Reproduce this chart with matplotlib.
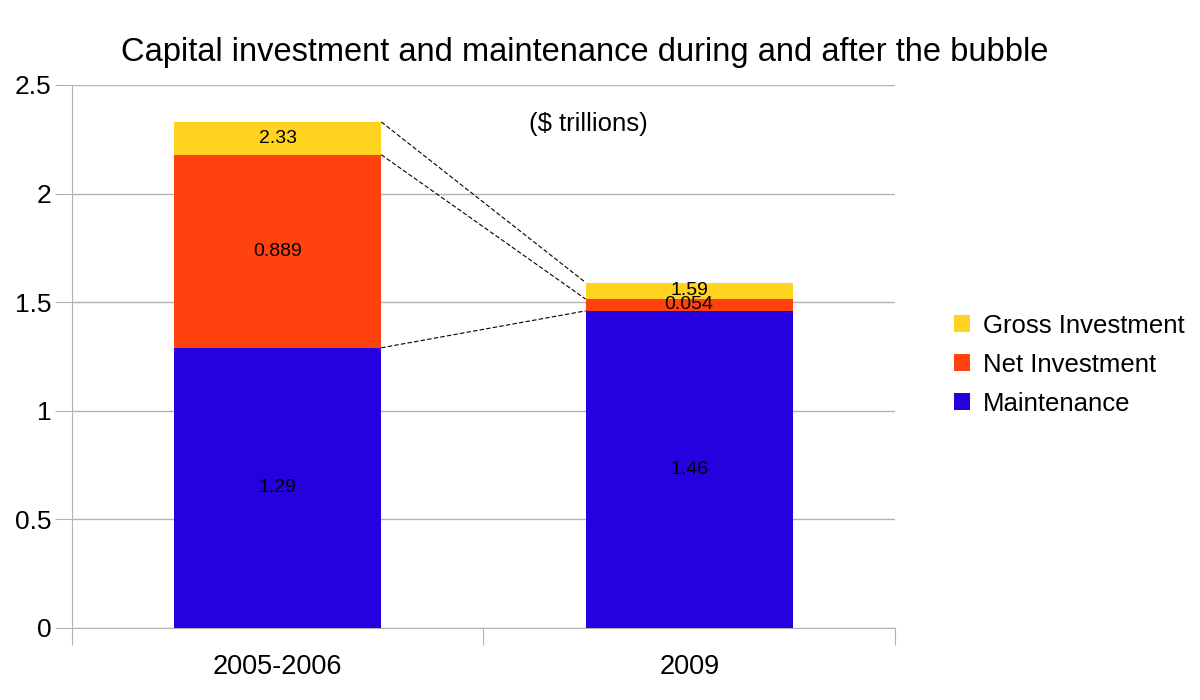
import matplotlib
matplotlib.use("Agg")
import matplotlib.pyplot as plt
import numpy as np
from matplotlib.ticker import FixedLocator, NullFormatter

plt.rcParams['font.family'] = ['Liberation Sans', 'DejaVu Sans']

categories = ["2005-2006", "2009"]
maintenance = [1.29, 1.46]
net_investment = [0.889, 0.054]
gross_totals = [2.33, 1.59]
gross_investment = [g - m - n for g, m, n in zip(gross_totals, maintenance, net_investment)]
yticks = [0, 0.5, 1, 1.5, 2, 2.5]
ytick_labels = ["0", "0.5", "1", "1.5", "2", "2.5"]

c_maint = "#2600DE"
c_net = "#FF420E"
c_gross = "#FFD320"
grid_c = "#B3B3B3"

fig = plt.figure(figsize=(12, 7), dpi=100)
ax = fig.add_axes([0.06, 0.1029, 0.6858, 0.7757])

x = np.arange(len(categories))
w = 0.503
b1 = ax.bar(x, maintenance, w, color=c_maint, label="Maintenance", zorder=3)
b2 = ax.bar(x, net_investment, w, bottom=maintenance, color=c_net, label="Net Investment", zorder=3)
bottom2 = [m + n for m, n in zip(maintenance, net_investment)]
b3 = ax.bar(x, gross_investment, w, bottom=bottom2, color=c_gross, label="Gross Investment", zorder=3)

# labels
lab_fs = 14
for i in range(len(categories)):
    ax.text(x[i], maintenance[i] / 2, f"{maintenance[i]:g}", ha="center", va="center", fontsize=lab_fs, zorder=5)
    ax.text(x[i], maintenance[i] + net_investment[i] / 2, f"{net_investment[i]:g}", ha="center", va="center", fontsize=lab_fs, zorder=5)
    ax.text(x[i], bottom2[i] + gross_investment[i] / 2, f"{gross_totals[i]:g}", ha="center", va="center", fontsize=lab_fs, zorder=5)

# connecting dashed lines
for lvl in (maintenance, bottom2, gross_totals):
    ax.plot([x[0] + w / 2, x[1] - w / 2], [lvl[0], lvl[1]], color="black", lw=0.8,
            ls=(0, (4, 2)), zorder=4)

ax.set_xlim(-0.5, 1.5)
ax.set_ylim(0, 2.5)
ax.set_yticks(yticks)
ax.set_yticklabels(ytick_labels, fontsize=19)
ax.yaxis.grid(True, color=grid_c, lw=1, zorder=0)
ax.tick_params(axis="y", length=12, color=grid_c, pad=3)

ax.xaxis.set_major_locator(FixedLocator([-0.5, 0.5, 1.5]))
ax.xaxis.set_major_formatter(NullFormatter())
ax.set_xticks(x, minor=True)
ax.set_xticklabels(categories, minor=True, fontsize=19.5)
ax.tick_params(axis="x", which="major", length=12, color=grid_c)
ax.tick_params(axis="x", which="minor", length=0, pad=19)

for s in ("top", "right"):
    ax.spines[s].set_visible(False)
for s in ("left", "bottom"):
    ax.spines[s].set_color(grid_c)

ax.text(0.628, 0.929, "($ trillions)", transform=ax.transAxes, ha="center", va="center", fontsize=18.5)

fig.text(0.4875, 0.925, "Capital investment and maintenance during and after the bubble",
         ha="center", va="center", fontsize=23.5)

handles = [b3, b2, b1]
leg = fig.legend(handles, [h.get_label() for h in handles], loc="center left",
                 bbox_to_anchor=(0.776, 0.479), frameon=False, fontsize=18.5,
                 handlelength=0.62, handleheight=0.62, handletextpad=0.5, labelspacing=0.58)

fig.savefig("out.png", dpi=100)
